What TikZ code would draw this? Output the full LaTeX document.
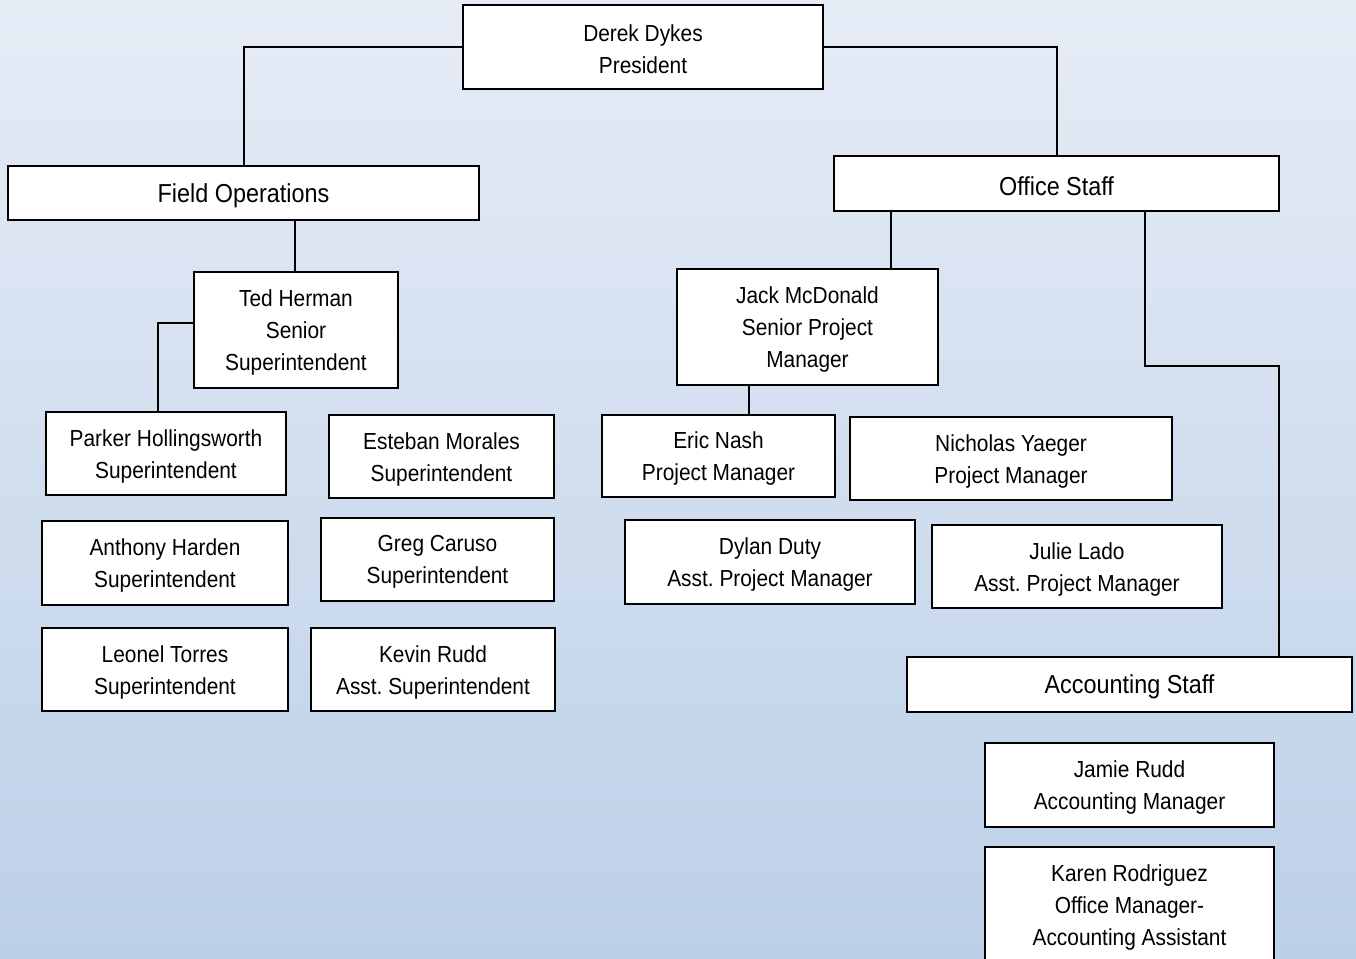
\documentclass[tikz,border=0pt]{standalone}
\usepackage{fontspec}
\setmainfont{Liberation Sans}
\newfontfamily\smallf[FakeStretch=0.9]{Liberation Sans}
\newfontfamily\bigf[FakeStretch=0.9]{Liberation Sans}
\frenchspacing
\definecolor{bgtop}{RGB}{230,236,246}
\definecolor{bgbot}{RGB}{188,208,231}
\tikzset{
  box/.style={draw=black, fill=white, line width=1.1pt, inner sep=0pt, outer sep=0pt},
  txt/.style={inner sep=0pt, align=center, yshift=-2.0pt, font=\smallf\frenchspacing\fontsize{17.4}{24}\selectfont},
  bigtxt/.style={txt, font=\bigf\frenchspacing\fontsize{19.5}{24}\selectfont},
  link/.style={draw=black, line width=1.1pt}
}
\newcommand\orgbox[7][txt]{%
  \node[box, minimum width={(#5-#3)*0.75pt}, minimum height={(#6-#4)*0.75pt}]
    (#2) at ({(#3+#5)/2},{(#4+#6)/2}) {};
  \node[#1] (#2-t) at (#2.center) {#7};}
\begin{document}
\begin{tikzpicture}[x=0.75pt,y=-0.75pt]
\clip (0,0) rectangle (1356,959);
\shade[top color=bgtop, bottom color=bgbot] (0,0) rectangle (1356,959);
\orgbox{pres}{463}{5}{823}{89}{Derek Dykes\\President}
\orgbox[bigtxt]{field}{8}{166}{479}{220}{Field Operations}
\orgbox[bigtxt]{office}{834}{156}{1279}{211}{Office Staff}
\orgbox{ted}{194}{272}{398}{388}{Ted Herman\\Senior\\Superintendent}
\orgbox{parker}{46}{412}{286}{495}{Parker Hollingsworth\\Superintendent}
\orgbox{esteban}{329}{415}{554}{498}{Esteban Morales\\Superintendent}
\orgbox{anthony}{42}{521}{288}{605}{Anthony Harden\\Superintendent}
\orgbox{greg}{321}{518}{554}{601}{Greg Caruso\\Superintendent}
\orgbox{leonel}{42}{628}{288}{711}{Leonel Torres\\Superintendent}
\orgbox{kevin}{311}{628}{555}{711}{Kevin Rudd\\Asst. Superintendent}
\orgbox{jack}{677}{269}{938}{385}{Jack McDonald\\Senior Project\\Manager}
\orgbox{eric}{602}{415}{835}{497}{Eric Nash\\Project Manager}
\orgbox{nicholas}{850}{417}{1172}{500}{Nicholas Yaeger\\Project Manager}
\orgbox{dylan}{625}{520}{915}{604}{Dylan Duty\\Asst. Project Manager}
\orgbox{julie}{932}{525}{1222}{608}{Julie Lado\\Asst. Project Manager}
\orgbox[bigtxt]{acct}{907}{657}{1352}{712}{Accounting Staff}
\orgbox{jamie}{985}{743}{1274}{827}{Jamie Rudd\\Accounting Manager}
\orgbox{karen}{985}{847}{1274}{963}{Karen Rodriguez\\Office Manager-\\Accounting Assistant}
% connectors
\draw[link] (pres.west) -| (field.north -| 244,0);
\draw[link] (pres.east) -| (office.north -| 1057,0);
\draw[link] (field.south -| 295,0) -- (ted.north -| 295,0);
\draw[link] (ted.west |- 0,323) -| (parker.north -| 158,0);
\draw[link] (office.south -| 891,0) -- (jack.north -| 891,0);
\draw[link] (office.south -| 1145,0) |- (1279,366) -- (acct.north -| 1279,0);
\draw[link] (jack.south -| 749,0) -- (eric.north -| 749,0);
\end{tikzpicture}
\end{document}
